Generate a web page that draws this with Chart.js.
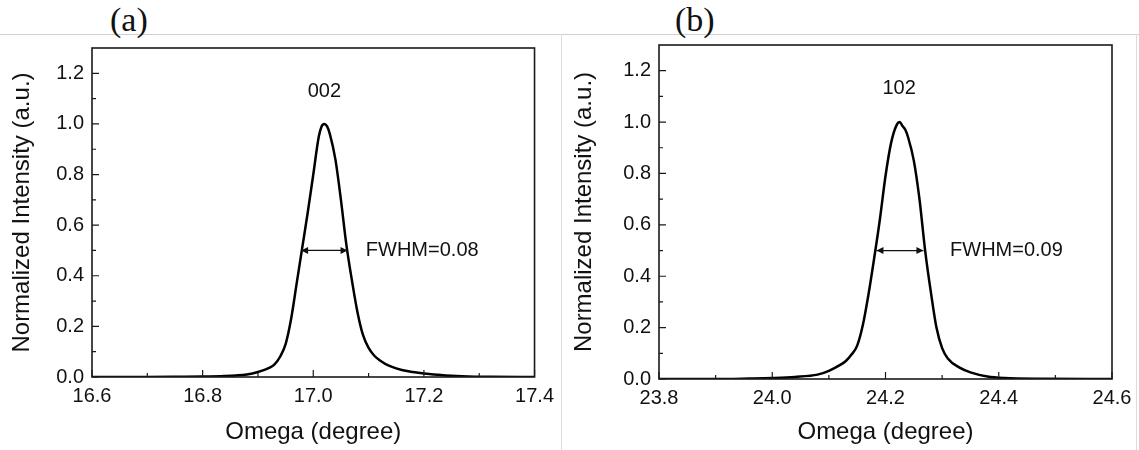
<!DOCTYPE html>
<html>
<head>
<meta charset="utf-8">
<script src="https://cdn.jsdelivr.net/npm/chart.js@4.4.1/dist/chart.umd.min.js"></script>
<style>
  html, body { margin: 0; padding: 0; background: #fff; }
  #page { position: relative; width: 1139px; height: 450px; overflow: hidden; background: #fff; }
  .panel { position: absolute; top: 0; }
  .tag { position: absolute; top: 3px; font-family: 'Liberation Serif', 'Times New Roman', serif; font-size: 34px; line-height: 34px; color: #111; }
  .hline { position: absolute; left: 0; top: 34px; width: 1139px; height: 1px; background: #d0d0d0; }
  .vline { position: absolute; top: 34px; width: 1px; height: 416px; background: #dcdcdc; }
</style>
</head>
<body>
<div id="page">
  <div class="hline"></div>
  <div class="vline" style="left:561px"></div>
  <div class="vline" style="left:1136px"></div>
  <div class="tag" style="left:110px">(a)</div>
  <div class="tag" style="left:675px">(b)</div>
  <canvas id="chartA" class="panel" width="561" height="450" style="left:0px"></canvas>
  <canvas id="chartB" class="panel" width="576" height="450" style="left:563px"></canvas>
</div>
<script>
// panel (a): 002 reflection
const omegaA = [16.60, 16.70, 16.76, 16.80, 16.84, 16.86, 16.88, 16.90, 16.92, 16.93, 16.94, 16.95, 16.96, 16.97, 16.98, 16.99, 17.00, 17.01, 17.015, 17.02, 17.025, 17.03, 17.04, 17.05, 17.06, 17.07, 17.08, 17.09, 17.10, 17.11, 17.12, 17.13, 17.14, 17.16, 17.18, 17.20, 17.22, 17.24, 17.28, 17.32, 17.40];
const intensityA = [0, 0, 0.001, 0.002, 0.004, 0.006, 0.010, 0.020, 0.036, 0.050, 0.080, 0.130, 0.230, 0.370, 0.510, 0.650, 0.800, 0.950, 0.990, 1.000, 0.990, 0.960, 0.860, 0.700, 0.520, 0.380, 0.255, 0.165, 0.115, 0.085, 0.066, 0.052, 0.042, 0.028, 0.020, 0.014, 0.010, 0.006, 0.002, 0.001, 0];
const fwhmA = [16.978, 17.062];

// panel (b): 102 reflection
const omegaB = [23.80, 23.90, 23.96, 24.00, 24.04, 24.08, 24.10, 24.12, 24.13, 24.14, 24.15, 24.16, 24.17, 24.18, 24.19, 24.20, 24.21, 24.22, 24.225, 24.23, 24.235, 24.24, 24.25, 24.26, 24.27, 24.28, 24.29, 24.30, 24.31, 24.33, 24.35, 24.38, 24.41, 24.48, 24.60];
const intensityB = [0, 0, 0.002, 0.004, 0.008, 0.017, 0.032, 0.055, 0.070, 0.095, 0.130, 0.210, 0.330, 0.470, 0.620, 0.790, 0.920, 0.990, 1.000, 0.985, 0.970, 0.940, 0.850, 0.700, 0.500, 0.340, 0.200, 0.120, 0.080, 0.045, 0.026, 0.010, 0.004, 0.001, 0];
const fwhmB = [24.184, 24.267];

const xRangeA = [16.6, 17.4];
const xRangeB = [23.8, 24.6];
const yRange = [0, 1.3];

const SANS = "'Liberation Sans', Arial, Helvetica, sans-serif";

// frame + inward ticks + peak labels + FWHM arrow
const framePlugin = {
  id: 'frame',
  afterDraw(chart, args, opts) {
    const { ctx, chartArea: a, scales: { x, y } } = chart;
    ctx.save();
    ctx.strokeStyle = '#1a1a1a';
    ctx.lineWidth = 1.6;
    ctx.strokeRect(a.left, a.top, a.right - a.left, a.bottom - a.top);

    ctx.lineWidth = 1.2;
    ctx.beginPath();
    for (let i = 0; i <= 8; i++) {
      const v = x.min + i * 0.1;
      const px = x.getPixelForValue(v);
      const len = i % 2 === 0 ? 7 : 4;
      ctx.moveTo(px, a.bottom);
      ctx.lineTo(px, a.bottom - len);
    }
    for (let i = 0; i <= 12; i++) {
      const py = y.getPixelForValue(i * 0.1);
      const len = i % 2 === 0 ? 7 : 4;
      ctx.moveTo(a.left, py);
      ctx.lineTo(a.left + len, py);
    }
    ctx.stroke();

    // peak label
    ctx.fillStyle = '#111';
    ctx.font = '20px ' + SANS;
    ctx.textAlign = 'center';
    ctx.textBaseline = 'middle';
    ctx.fillText(opts.peak, x.getPixelForValue(opts.peakX), y.getPixelForValue(1.13));

    // FWHM arrow
    const x1 = x.getPixelForValue(opts.fwhm[0]);
    const x2 = x.getPixelForValue(opts.fwhm[1]);
    const py = y.getPixelForValue(0.5);
    ctx.strokeStyle = '#111';
    ctx.lineWidth = 1.3;
    ctx.beginPath();
    ctx.moveTo(x1, py);
    ctx.lineTo(x2, py);
    ctx.stroke();
    ctx.beginPath();
    ctx.moveTo(x1, py); ctx.lineTo(x1 + 7, py - 3.5); ctx.lineTo(x1 + 7, py + 3.5); ctx.closePath();
    ctx.moveTo(x2, py); ctx.lineTo(x2 - 7, py - 3.5); ctx.lineTo(x2 - 7, py + 3.5); ctx.closePath();
    ctx.fill();

    ctx.textAlign = 'left';
    ctx.fillText(opts.label, x.getPixelForValue(opts.labelX), py);
    ctx.restore();
  }
};

function makeChart(id, xs, ys, xRange, area, titlePad, notes) {
  const points = xs.map((v, i) => ({ x: v, y: ys[i] }));
  const canvas = document.getElementById(id);
  return new Chart(canvas, {
    type: 'line',
    data: {
      datasets: [{
        data: points,
        borderColor: '#000',
        borderWidth: 2.5,
        pointRadius: 0,
        cubicInterpolationMode: 'monotone',
        fill: false
      }]
    },
    options: {
      responsive: false,
      animation: false,
      devicePixelRatio: 1,
      layout: { padding: { left: 0, top: area.top, right: canvas.width - area.right, bottom: 0 } },
      plugins: {
        legend: { display: false },
        tooltip: { enabled: false },
        frame: notes
      },
      scales: {
        x: {
          type: 'linear',
          min: xRange[0],
          max: xRange[1],
          afterFit: s => { s.height = canvas.height - area.bottom; },
          grid: { display: false, drawTicks: false },
          border: { display: false },
          ticks: {
            stepSize: 0.2,
            autoSkip: false,
            maxRotation: 0,
            padding: 7,
            color: '#111',
            font: { family: SANS, size: 20 },
            callback: v => Number(v).toFixed(1)
          },
          title: {
            display: true,
            text: 'Omega (degree)',
            color: '#111',
            font: { family: SANS, size: 24 },
            padding: { top: 0, bottom: 3 }
          }
        },
        y: {
          min: yRange[0],
          max: yRange[1],
          afterFit: s => { s.width = area.left; },
          afterBuildTicks: s => { s.ticks = s.ticks.filter(t => t.value <= 1.2001); },
          grid: { display: false, drawTicks: false },
          border: { display: false },
          ticks: {
            stepSize: 0.2,
            padding: 8,
            color: '#111',
            font: { family: SANS, size: 20 },
            callback: v => Number(v).toFixed(1)
          },
          title: {
            display: true,
            text: 'Normalized Intensity (a.u.)',
            color: '#111',
            font: { family: SANS, size: 24 },
            padding: { top: titlePad, bottom: 0 }
          }
        }
      }
    },
    plugins: [framePlugin]
  });
}

makeChart('chartA', omegaA, intensityA, xRangeA,
  { left: 92, right: 538, top: 48, bottom: 377 }, 8,
  { peak: '002', peakX: 17.02, fwhm: fwhmA, label: 'FWHM=0.08', labelX: 17.095 });

makeChart('chartB', omegaB, intensityB, xRangeB,
  { left: 96, right: 549, top: 45, bottom: 379 }, 7,
  { peak: '102', peakX: 24.224, fwhm: fwhmB, label: 'FWHM=0.09', labelX: 24.314 });
</script>
</body>
</html>
